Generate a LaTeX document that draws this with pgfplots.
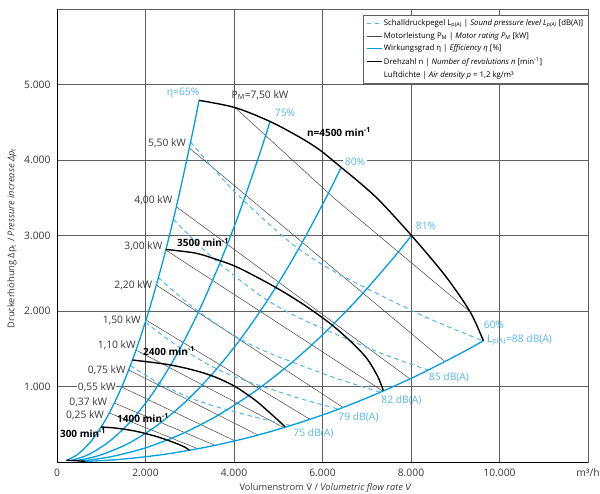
\documentclass[border=0pt]{standalone}
\usepackage{fontspec}
\setmainfont{Open Sans}
\newfontfamily\djv{DejaVu Sans}
\usepackage{pgfplots}
\pgfplotsset{compat=1.18}
\definecolor{effblue}{RGB}{0,158,227}
\definecolor{lblue}{RGB}{85,182,235}
\definecolor{gridgray}{RGB}{95,95,95}
\definecolor{pgray}{RGB}{70,70,70}
\definecolor{tgray}{RGB}{55,55,55}
\newcommand\Vdot{{\djv\fontsize{8.6}{11}\selectfont V̇}}
\begin{document}
\begin{tikzpicture}[font=\fontsize{10.3}{12}\selectfont,
  lab/.style={inner sep=0.8pt, text=tgray},
  blab/.style={inner sep=0.8pt, text=lblue},
  nlab/.style={inner sep=0.8pt, text=black, font=\fontsize{10}{12}\selectfont\bfseries}]
\begin{axis}[
  at={(0,0)}, anchor=south west,
  scale only axis, width=531pt, height=453pt,
  xmin=0, xmax=12000, ymin=0, ymax=6000,
  scaled x ticks=false, scaled y ticks=false,
  xtick={0,2000,4000,6000,8000,10000,12000},
  xticklabels={0,2.000,4.000,6.000,8.000,10.000,m³/h},
  ytick={1000,2000,3000,4000,5000},
  yticklabels={1.000,2.000,3.000,4.000,5.000},
  major tick length=0pt,
  grid=major,
  major grid style={draw=gridgray, line width=0.65pt},
  axis line style={draw=gridgray, line width=0.65pt},
  tick label style={text=tgray, font=\fontsize{10.3}{12}\selectfont},
  xticklabel style={inner sep=1pt, yshift=-5.6pt},
  yticklabel style={xshift=-3pt},
  xlabel={Volumenstrom \Vdot{} / \textit{Volumetric flow rate \Vdot}},
  ylabel={Druckerhöhung Δp\textsubscript{t} / \textit{Pressure increase Δp\textsubscript{t}}},
  xlabel style={at={(axis description cs:0.5,0)}, anchor=center, inner sep=0.5pt, yshift=-26pt, xshift=3pt},
  ylabel style={at={(axis description cs:0,0.5)}, anchor=center, yshift=45pt, xshift=-3pt},
  label style={font=\fontsize{9.3}{11}\selectfont, text=tgray},
  legend style={at={(1,1)}, anchor=north east, yshift=-6pt, draw=gridgray, line width=0.5pt,
    fill=white, font=\fontsize{7.8}{9}\selectfont, cells={anchor=west}, row sep=2.2pt, inner sep=3pt,
    nodes={inner sep=1.5pt}},
  legend image code/.code={\draw[#1] (0pt,0pt) -- (15pt,0pt);},
]
% legend entries
\addlegendimage{lblue, line width=1pt, dash pattern=on 4.5pt off 3.5pt}
\addlegendentry{Schalldruckpegel L\textsubscript{p(A)} | \textit{Sound pressure level L\textsubscript{p(A)}} [dB(A)]}
\addlegendimage{pgray, line width=0.5pt}
\addlegendentry{Motorleistung P\textsubscript{M} | \textit{Motor rating P\textsubscript{M}} [kW]}
\addlegendimage{effblue, line width=1.3pt}
\addlegendentry{Wirkungsgrad η | \textit{Efficiency η} [\%]}
\addlegendimage{black, line width=1.4pt}
\addlegendentry{Drehzahl n | \textit{Number of revolutions n} [min\textsuperscript{-1}]}
\addlegendimage{empty legend}
\addlegendentry{Luftdichte | \textit{Air density ρ} = 1,2 kg/m³}

% power lines (thin gray)
\addplot[forget plot, pgray, line width=0.5pt] coordinates {(4023,4695)(6283,3483)(9333,1990)};
\addplot[forget plot, pgray, line width=0.5pt] coordinates {(2991,4159)(8768,1329)};
\addplot[forget plot, pgray, line width=0.5pt] coordinates {(2697,3381)(7977,1100)};
\addplot[forget plot, pgray, line width=0.5pt] coordinates {(2458,2808)(7367,938)};
\addplot[forget plot, pgray, line width=0.5pt] coordinates {(2245,2344)(6463,722)};
\addplot[forget plot, pgray, line width=0.5pt] coordinates {(2011,1881)(5718,565)};
\addplot[forget plot, pgray, line width=0.5pt] coordinates {(1786,1483)(5130,455)};
\addplot[forget plot, pgray, line width=0.5pt] coordinates {(1619,1219)(4542,357)};
\addplot[forget plot, pgray, line width=0.5pt] coordinates {(1462,993)(4023,279)};
\addplot[forget plot, pgray, line width=0.5pt] coordinates {(1296,781)(3571,221)};
\addplot[forget plot, pgray, line width=0.5pt] coordinates {(1181,649)(3186,175)};

% sound pressure level lines (dashed)
\addplot[forget plot, lblue, line width=1pt, dash pattern=on 4.5pt off 3.5pt, smooth] coordinates {(3019,4238)(3910,3642)(4814,3139)(5492,2808)(6283,2517)(7299,2212)(8429,1894)(9634,1603)};
\addplot[forget plot, lblue, line width=1pt, dash pattern=on 4.5pt off 3.5pt, smooth] coordinates {(2630,3215)(3406,2763)(4193,2382)(4784,2130)(5472,1910)(6357,1678)(7342,1437)(8391,1216)};
\addplot[forget plot, lblue, line width=1pt, dash pattern=on 4.5pt off 3.5pt, smooth] coordinates {(2291,2442)(2968,2098)(3654,1808)(4168,1618)(4769,1450)(5540,1274)(6398,1091)(7312,923)};
\addplot[forget plot, lblue, line width=1pt, dash pattern=on 4.5pt off 3.5pt, smooth] coordinates {(1996,1852)(2585,1591)(3182,1371)(3630,1227)(4153,1100)(4825,966)(5572,827)(6368,700)};
\addplot[forget plot, lblue, line width=1pt, dash pattern=on 4.5pt off 3.5pt, smooth] coordinates {(1657,1277)(2147,1098)(2643,946)(3015,846)(3449,759)(4007,667)(4628,571)(5289,483)};

% efficiency curves (blue)
\addplot[forget plot, effblue, line width=1.3pt, smooth] coordinates {(214,21)(482,108)(803,299)(1124,587)(1445,970)(1766,1449)(2087,2024)(2408,2694)(2729,3461)(3050,4323)(3210,4790)};
\addplot[forget plot, effblue, line width=1.3pt, smooth] coordinates {(321,20)(722,101)(1204,282)(1685,552)(2167,913)(2648,1364)(3130,1905)(3611,2537)(4093,3258)(4574,4070)(4815,4510)};
\addplot[forget plot, effblue, line width=1.3pt, smooth] coordinates {(428,17)(962,88)(1603,243)(2244,477)(2885,788)(3526,1177)(4167,1644)(4808,2188)(5449,2811)(6090,3511)(6410,3890)};
\addplot[forget plot, effblue, line width=1.3pt, smooth] coordinates {(534,13)(1202,68)(2003,188)(2804,368)(3605,608)(4406,908)(5207,1268)(6008,1688)(6809,2168)(7610,2708)(8010,3000)};
\addplot[forget plot, effblue, line width=1.3pt, smooth] coordinates {(643,7)(1445,36)(2409,100)(3372,197)(4336,325)(5299,486)(6263,678)(7226,903)(8190,1160)(9153,1449)(9635,1605)};

% speed curves (black)
\addplot[forget plot, black, line width=1.4pt, smooth] coordinates {(3210,4790)(4020,4695)(4815,4510)(5490,4300)(5945,4130)(6395,3915)(6850,3695)(7300,3455)(8010,3000)(8770,2470)(9335,1990)(9635,1605)};
\addplot[forget plot, black, line width=1.4pt, smooth] coordinates {(2463,2815)(3119,2768)(3571,2689)(4090,2576)(4927,2318)(5605,2073)(6215,1815)(6734,1543)(7028,1351)(7254,1126)(7374,947)};
\addplot[forget plot, black, line width=1.4pt, smooth] coordinates {(1702,1351)(2508,1291)(3119,1212)(3571,1126)(4023,1000)(4475,821)(4814,649)(5040,530)(5153,464)};
\addplot[forget plot, black, line width=1.4pt, smooth] coordinates {(998,463)(1250,454)(1497,436)(1707,416)(1849,399)(1989,379)(2130,357)(2270,334)(2491,290)(2727,239)(2903,192)(2996,155)};
\addplot[forget plot, black, line width=1.4pt, smooth] coordinates {(214,21)(268,21)(321,20)(366,19)(397,18)(427,17)(457,16)(487,15)(534,13)(585,11)(623,9)(643,7)};

% labels
\node[blab] at (2848,4887) {η=65\%};
\node[lab] at (4588,4861) {P\textsubscript{M}=7,50 kW};
\node[blab] at (5153,4622) {75\%};
\node[nlab] at (6373,4371) {n=4500 min\textsuperscript{-1}};
\node[blab, fill=white, inner sep=2pt] at (6735,3977) {80\%};
\node[blab] at (8339,3126) {81\%};
\node[blab] at (9876,1815) {60\%};
\node[blab, anchor=west] at (9695,1616) {L\textsubscript{p(A)}=88 dB(A)};
\node[blab] at (8859,1119) {85 dB(A)};
\node[blab] at (7785,812) {82 dB(A)};
\node[blab] at (6814,592) {79 dB(A)};
\node[blab] at (5797,380) {75 dB(A)};
\node[nlab] at (3299,2905) {3500 min\textsuperscript{-1}};
\node[nlab] at (2531,1470) {2400 min\textsuperscript{-1}};
\node[nlab] at (1944,579) {1400 min\textsuperscript{-1}};
\node[nlab] at (588,380) {300 min\textsuperscript{-1}};
\node[lab, anchor=east] at (2938,4219) {5,50 kW};
\node[lab, anchor=east] at (2628,3470) {4,00 kW};
\node[lab, anchor=east] at (2402,2852) {3,00 kW};
\node[lab, anchor=east] at (2176,2344) {2,20 kW};
\node[lab, anchor=east] at (1914,1872) {1,50 kW};
\node[lab, anchor=east] at (1801,1550) {1,10 kW};
\node[lab, anchor=east] at (1575,1219) {0,75 kW};
\node[lab, anchor=east, fill=white] at (1349,989) {0,55 kW};
\node[lab, anchor=east] at (1159,785) {0,37 kW};
\node[lab, anchor=east] at (1085,613) {0,25 kW};
\node[lab] at (rel axis cs:0,1) [xshift=-14pt, yshift=4pt] {Pa};
\draw[black, line width=0.9pt] (rel axis cs:0,1) -- (rel axis cs:0,0) -- (rel axis cs:1,0);
\end{axis}
\pgfresetboundingbox
\path[use as bounding box] (-57pt,-31pt) rectangle (543pt,462pt);
\end{tikzpicture}
\end{document}
